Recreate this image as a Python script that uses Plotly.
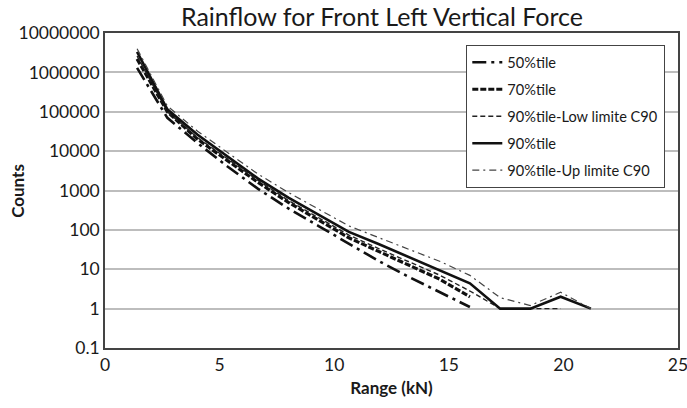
import plotly.graph_objects as go

# Rainflow cycle counts per load-range bin (kN)
range_kn = [1.4, 2.72, 4.04, 5.36, 6.68, 8.0, 9.32, 10.64, 11.96, 13.28, 14.6, 15.92, 17.24, 18.56, 19.88, 21.2]

p50 = [1300000, 70000, 16000, 4000, 1100, 350, 125, 45, 16, 6.3, 2.6, 1.1]
p70 = [2200000, 100000, 20000, 5600, 1600, 500, 180, 63, 28, 12.5, 5.6, 2.0]
p90_low = [2600000, 100000, 22000, 6300, 1800, 560, 200, 74, 33, 15, 7.1, 2.8, 1, 1, 1]
p90 = [3300000, 115000, 26000, 7100, 2000, 660, 245, 89, 43, 20, 9.3, 4.4, 1, 1, 2, 1]
p90_up = [4000000, 140000, 32000, 8900, 2600, 890, 330, 126, 63, 32, 16, 7.0, 1.9, 1.2, 2.6, 1]

y_ticks = [0.1, 1, 10, 100, 1000, 10000, 100000, 1000000, 10000000]
y_tick_text = ["0.1", "1", "10", "100", "1000", "10000", "100000", "1000000", "10000000"]

series = [
    ("50%tile", p50, dict(color="#111111", width=2.6, dash="14px,5px,3px,5px")),
    ("70%tile", p70, dict(color="#111111", width=3.2, dash="6px,2px")),
    ("90%tile-Low limite C90", p90_low, dict(color="#222222", width=1.4, dash="5px,3px")),
    ("90%tile", p90, dict(color="#111111", width=2.6)),
    ("90%tile-Up limite C90", p90_up, dict(color="#444444", width=1.2, dash="7px,4px,2px,4px")),
]

fig = go.Figure()
for i, (name, vals, line) in enumerate(series):
    fig.add_trace(go.Scatter(
        x=range_kn[:len(vals)], y=vals, name=name, mode="lines",
        line=line, legendgroup=f"g{i}",
    ))

fig.update_layout(
    width=687, height=408,
    margin=dict(l=105, r=9, t=33, b=60, autoexpand=False),
    paper_bgcolor="white", plot_bgcolor="white",
    font=dict(family="Lato, Open Sans, sans-serif", color="#1a1a1a"),
    title=dict(text="Rainflow for Front Left Vertical Force", x=0.556, xanchor="center",
               y=0.958, yanchor="middle", font=dict(size=25, color="#1a1a1a")),
    legend=dict(x=0.630, y=0.962, xanchor="left", yanchor="top",
                bordercolor="#444444", borderwidth=1.3, bgcolor="white",
                font=dict(size=14.6, color="#1a1a1a"), tracegroupgap=5,
                itemwidth=30),
    showlegend=True,
    annotations=[dict(
        text="<b>Counts</b>", xref="paper", yref="paper",
        x=-0.153, y=0.5, xanchor="center", yanchor="middle",
        textangle=-90, showarrow=False, font=dict(size=17, color="#1a1a1a"),
    )],
)
fig.update_xaxes(
    range=[0, 25], tickvals=[0, 5, 10, 15, 20, 25], showgrid=False,
    showline=True, mirror=True, linecolor="#444444", linewidth=1.6,
    ticks="", tickfont=dict(size=17.5), ticklabeloverflow="allow",
    title=dict(text="<b>Range (kN)</b>", font=dict(size=17), standoff=8),
    zeroline=False, automargin=False,
)
fig.update_yaxes(
    type="log", range=[-1, 7], tickvals=y_ticks, ticktext=y_tick_text,
    showgrid=True, gridcolor="#bdbdbd", gridwidth=2,
    showline=True, mirror=True, linecolor="#444444", linewidth=1.6,
    ticks="", tickfont=dict(size=17.5), ticklabeloverflow="allow",
    zeroline=False, automargin=False,
)

fig.write_html("out.html")
